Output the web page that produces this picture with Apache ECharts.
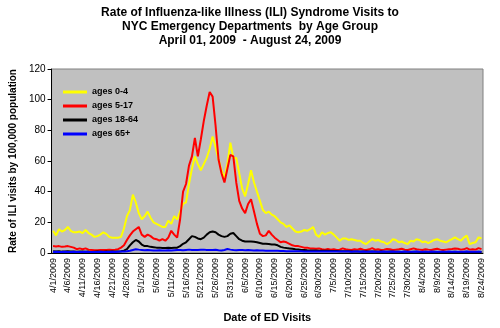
<!DOCTYPE html>
<html>
<head>
<meta charset="utf-8">
<script src="https://cdn.jsdelivr.net/npm/echarts@6/dist/echarts.min.js"></script>
<style>html,body{margin:0;padding:0;background:#fff}#c{width:500px;height:328px}</style>
</head>
<body>
<div id="c"></div>
<script>
// Categories: daily dates from 4/1/2009 to 8/24/2009
const startDate = [2009, 3, 1];
const dayCount = 146;
const categories = [];
for (let i = 0; i < dayCount; i++) {
  const d = new Date(startDate[0], startDate[1], startDate[2] + i);
  categories.push((d.getMonth() + 1) + '/' + d.getDate() + '/' + d.getFullYear());
}
const seriesNames = ['ages 0-4', 'ages 5-17', 'ages 18-64', 'ages 65+'];
const yTicks = [0, 20, 40, 60, 80, 100, 120];

const ages0to4 = [
14.5,11.5,15.5,14,15,17,14.5,13.5,13.5,14,
13,15,13,12,10.5,11,12,13.5,12.5,10.5,
10,10,10,10.5,16,24,28,38,33,26,
22,24,27,23,20,19,18,17,17,21,
19,24,22,27,32,33,45,55,63,58,
54,58,62,68,76,69,61,54,49,58,
72,62,62,52,42,37,45,54,46,40,
34,28,26,27,25,24,22,20,19,17,
18,16,14,13.5,14,15,14.5,15.5,17,12,
10.5,13.5,12,13,13.5,12,10,8,9.5,9.5,
8.5,9,8.5,8,8,6.5,5.8,7.5,9,8,
8.5,7.5,7,5.8,7,9,8.5,7,7.5,6.5,
5.8,8,7.5,9,8.5,7,7.5,6.4,7.5,8.5,
9,8,7.5,7,8,9,10.2,9,8,10,
11.3,5.8,6.5,7,10.2,9.5
];
const ages5to17 = [
4.5,4.3,4.5,4,4.2,4.5,4,3.5,2.5,3,
2.5,3,2.2,2,1.8,1.8,2,2,2,2.2,
2,2.2,2.5,3.5,5,8.5,11.5,14,15.5,17,
12,10.5,12,11,9.5,9,8,9,8,10,
14.5,12,10,22,40,45,57,63,75,63,
74,86,96,105,102,83,61,52,46,55,
64,63,46,34,29,26,32,35,27,19,
12.5,11,11.5,14.5,12,10,8.5,7,7.5,7,
6,5,4.5,4.5,4,3.5,3.5,3,3,2.8,
3,2.5,2.2,2.6,2.2,2.5,2,2.2,3,2.4,
2.2,2,2.5,2.2,2.8,2.2,2,2.4,3.2,2.2,
2.5,2,2.2,2.6,2.4,2,2.2,2.4,2.8,2.2,
2,2.5,3,2.4,2.2,2,2.5,2.2,2,2.4,
2.8,2.2,2,2.2,2.4,2.6,3,2.8,2.2,2.4,
3.2,2.2,2.5,2.2,3.2,2.5
];
const ages18to64 = [
1.2,1,1.1,0.9,1,1.2,1,0.9,0.8,1,
0.9,0.8,0.9,0.7,0.8,0.9,0.8,0.8,0.9,1,
0.9,1,1,1.2,1.5,2.5,5,7,8.5,7.5,
5.5,4.5,4.5,4,3.8,3.5,3.5,3.2,3.3,3.5,
3.3,3.5,3.5,4.5,6,7,9,11,10.5,9.5,
9,10,12,13.5,14,13.5,12,11,10.5,11,
12.5,13,11,9,8,7.5,7.5,7.5,7.3,7,
6.5,6,6,5.8,5.5,5.5,5,4,3.5,3.2,
3,2.8,2.5,2.3,2,2,1.8,1.7,1.6,1.6,
1.5,1.5,1.4,1.4,1.3,1.3,1.3,1.2,1.2,1.1,
1.1,1,1,1,1,0.9,0.9,1,0.9,0.9,
0.8,0.9,0.8,0.8,0.9,0.8,0.8,0.8,0.7,0.8,
0.8,0.7,0.8,0.8,0.7,0.7,0.8,0.7,0.7,0.8,
0.7,0.7,0.8,0.7,0.7,0.7,0.8,0.7,0.7,0.7,
0.8,0.7,0.7,0.7,0.8,0.7
];
const ages65plus = [
0.7,0.8,0.6,0.7,0.8,0.6,0.7,0.8,0.7,0.6,
0.7,0.8,0.7,0.6,0.7,0.7,0.8,0.7,0.6,0.7,
0.8,0.7,0.8,0.9,1,1.2,1.5,2,2.5,2.2,
2,1.8,2,1.8,1.6,1.7,1.8,1.6,1.7,1.8,
1.7,1.8,1.9,2,1.8,2,2.2,2,1.9,2,
2.1,2.2,2,1.9,2,2.1,1.8,1.7,2,2.6,
2.2,1.9,1.8,2,1.9,1.8,1.9,1.8,1.7,1.8,
1.7,1.6,1.5,1.5,1.4,1.5,1.4,1.3,1.3,1.2,
1.2,1.2,1.1,1.1,1.1,1,1,1,1,1,
0.9,1,0.9,0.9,1,0.9,0.9,0.9,1,0.9,
0.9,0.8,0.9,0.9,0.8,0.9,0.8,0.8,0.9,0.8,
0.8,0.8,0.9,0.8,0.8,0.9,0.8,0.8,0.8,0.9,
0.8,0.8,0.8,0.9,0.8,0.8,0.8,0.8,0.9,0.8,
0.8,0.8,0.8,0.8,0.9,0.8,0.8,0.8,0.8,0.8,
0.9,0.8,0.8,0.8,0.8,0.8
];
const colors = ['#FFFF00', '#FF0000', '#000000', '#0000FF'];
const values = [ages0to4, ages5to17, ages18to64, ages65plus];

const FONT = '"Liberation Sans", Arial, sans-serif';
const chart = echarts.init(document.getElementById('c'), null, {renderer: 'canvas'});
chart.setOption({
  animation: false,
  backgroundColor: '#ffffff',
  title: {
    text: 'Rate of Influenza-like Illness (ILI) Syndrome Visits to\nNYC Emergency Departments  by Age Group\nApril 01, 2009  - August 24, 2009',
    left: 'center', top: 1,
    textStyle: {fontFamily: FONT, fontSize: 12, fontWeight: 'bold', color: '#000', lineHeight: 14}
  },
  legend: {
    orient: 'vertical', left: 58, top: 82,
    itemWidth: 24, itemHeight: 3, itemGap: 4, icon: 'rect',
    data: seriesNames,
    textStyle: {fontFamily: FONT, fontSize: 9, fontWeight: 'bold', color: '#000', lineHeight: 10}
  },
  grid: {
    left: 47, right: 17, top: 69, bottom: 74,
    show: true, backgroundColor: '#C0C0C0', borderColor: '#808080', borderWidth: 1
  },
  xAxis: {
    type: 'category', data: categories, boundaryGap: true,
    name: 'Date of ED Visits', nameLocation: 'middle', nameGap: 59,
    nameTextStyle: {fontFamily: FONT, fontSize: 11, fontWeight: 'bold', color: '#000'},
    axisLine: {lineStyle: {color: '#000', width: 1}},
    axisTick: {interval: 4, alignWithLabel: true, length: 4, lineStyle: {color: '#000'}},
    axisLabel: {interval: 4, rotate: 90, fontFamily: FONT, fontSize: 9, color: '#000', margin: 5},
    splitLine: {show: false}
  },
  yAxis: {
    type: 'value', min: yTicks[0], max: yTicks[yTicks.length - 1], interval: 20,
    name: 'Rate of ILI visits by 100,000 population', nameLocation: 'middle', nameGap: 26, nameRotate: 90,
    nameTextStyle: {fontFamily: FONT, fontSize: 10, fontWeight: 'bold', color: '#000'},
    axisLine: {show: true, lineStyle: {color: '#000', width: 1}},
    axisTick: {show: true, length: 4, lineStyle: {color: '#000'}},
    axisLabel: {fontFamily: FONT, fontSize: 10, color: '#000', margin: 6},
    splitLine: {show: false}
  },
  series: seriesNames.map((n, k) => ({
    name: n, type: 'line', data: values[k], showSymbol: false, symbol: 'none',
    lineStyle: {color: colors[k], width: 2}, itemStyle: {color: colors[k]}, z: 2 + k
  }))
});
</script>
</body>
</html>
